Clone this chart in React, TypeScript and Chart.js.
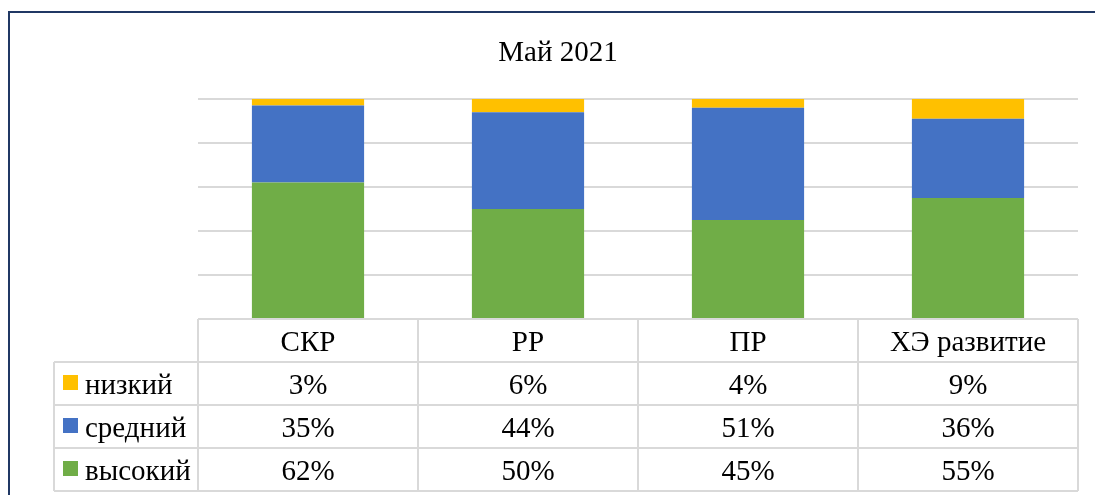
import React, { useEffect, useRef } from "react";
import { Chart, registerables } from "chart.js";

Chart.register(...registerables);

const title = "Май 2021";
const categories = ["СКР", "РР", "ПР", "ХЭ развитие"];
const seriesNames = ["низкий", "средний", "высокий"];
const lowValues = [3, 6, 4, 9];
const midValues = [35, 44, 51, 36];
const highValues = [62, 50, 45, 55];
const seriesColors = ["#FFC000", "#4472C4", "#70AD47"];
const yMin = 0;
const yMax = 100;
const yStep = 20;

const FONT = "'Liberation Serif', 'Times New Roman', serif";

const tablePlugin = {
  id: "dataTable",
  afterDraw(chart: any) {
    const ctx = chart.ctx as CanvasRenderingContext2D;
    const { left, right, bottom } = chart.chartArea;
    const x = chart.scales.x;
    const step = x.getPixelForValue(1) - x.getPixelForValue(0);
    const rowH = 43;
    const legendLeft = 54;
    const rows = [lowValues, midValues, highValues];

    ctx.save();
    // outer frame
    ctx.strokeStyle = "#203864";
    ctx.lineWidth = 2;
    ctx.beginPath();
    ctx.moveTo(9, 495);
    ctx.lineTo(9, 12);
    ctx.lineTo(1095, 12);
    ctx.stroke();

    // title
    ctx.fillStyle = "#000";
    ctx.font = `29px ${FONT}`;
    ctx.textAlign = "center";
    ctx.textBaseline = "alphabetic";
    ctx.fillText(title, 558, 61);

    // table grid
    ctx.strokeStyle = "#D9D9D9";
    ctx.lineWidth = 2;
    ctx.beginPath();
    ctx.moveTo(left, bottom);
    ctx.lineTo(right, bottom);
    for (let k = 1; k <= 4; k++) {
      ctx.moveTo(legendLeft, bottom + k * rowH);
      ctx.lineTo(right, bottom + k * rowH);
    }
    ctx.moveTo(legendLeft, bottom + rowH);
    ctx.lineTo(legendLeft, bottom + 4 * rowH);
    for (let i = 0; i <= categories.length; i++) {
      const px = x.getPixelForValue(0) - step / 2 + i * step;
      ctx.moveTo(px, bottom);
      ctx.lineTo(px, bottom + 4 * rowH);
    }
    ctx.stroke();

    ctx.fillStyle = "#000";
    ctx.font = `29px ${FONT}`;
    ctx.textAlign = "center";
    categories.forEach((c, i) => {
      ctx.fillText(c, x.getPixelForValue(i), bottom + 32);
    });
    rows.forEach((vals, r) => {
      const top = bottom + (r + 1) * rowH;
      vals.forEach((v, i) => {
        ctx.fillText(v + "%", x.getPixelForValue(i), top + 31.5);
      });
    });
    ctx.textAlign = "left";
    seriesNames.forEach((name, r) => {
      const top = bottom + (r + 1) * rowH;
      ctx.fillStyle = seriesColors[r];
      ctx.fillRect(63, top + 13, 15, 15);
      ctx.fillStyle = "#000";
      ctx.fillText(name, 85, top + 31.5);
    });
    ctx.restore();
  },
};

export default function App() {
  const ref = useRef<HTMLCanvasElement>(null);
  useEffect(() => {
    if (!ref.current) return;
    const chart = new Chart(ref.current, {
      type: "bar",
      data: {
        labels: categories,
        datasets: [
          { label: seriesNames[2], data: highValues, backgroundColor: seriesColors[2] },
          { label: seriesNames[1], data: midValues, backgroundColor: seriesColors[1] },
          { label: seriesNames[0], data: lowValues, backgroundColor: seriesColors[0] },
        ],
      },
      options: {
        responsive: false,
        animation: false,
        layout: { padding: { left: 198, right: 17, top: 99, bottom: 176 } },
        datasets: { bar: { barPercentage: 0.51, categoryPercentage: 1 } },
        plugins: {
          legend: { display: false },
          tooltip: { enabled: false },
          title: { display: false },
        },
        scales: {
          x: { stacked: true, display: false },
          y: {
            stacked: true,
            min: yMin,
            max: yMax,
            ticks: { display: false, stepSize: yStep },
            grid: { drawTicks: false, color: "#D9D9D9", lineWidth: 2 },
            border: { display: false },
          },
        },
      },
      plugins: [tablePlugin],
    });
    return () => chart.destroy();
  }, []);
  return (
    <div style={{ position: "fixed", left: 0, top: 0, width: 1095, height: 495, background: "#fff" }}>
      <canvas ref={ref} width={1095} height={495} style={{ display: "block" }} />
    </div>
  );
}
